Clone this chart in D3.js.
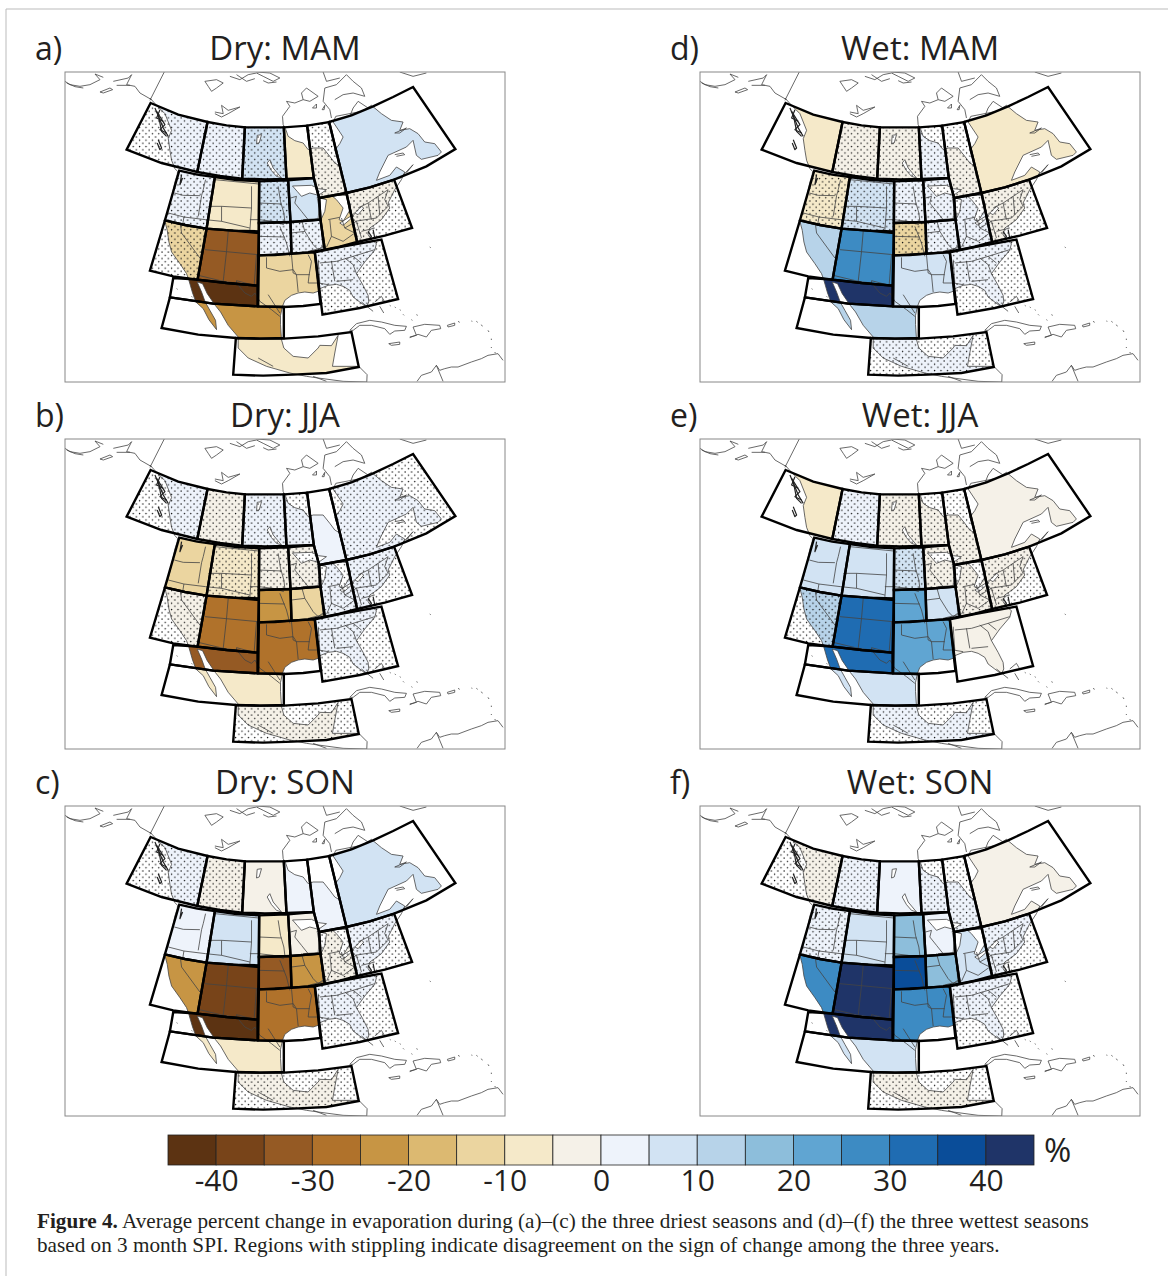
<!DOCTYPE html>
<html lang="en">
<head>
<meta charset="UTF-8">
<title>Figure 4</title>
<script src="https://d3js.org/d3.v7.min.js"></script>
<style>
  html, body { margin: 0; background: #fff; }
  svg { display: block; }
  .title, .tag, .cbar text, .unit { font-family: "Open Sans", "Noto Sans", sans-serif; fill: #231f20; }
  .title { font-size: 33px; text-anchor: middle; }
  .tag { font-size: 32px; }
  .caption { font-family: "Liberation Serif", serif; font-size: 21.2px; fill: #231f20; }
  .thin { fill: none; stroke: #444; stroke-width: 0.8; stroke-linejoin: round; }
  .dense { fill: none; stroke: #222; stroke-width: 1.2; stroke-linejoin: round; }
  .box { fill: none; stroke: #000; stroke-width: 2.4; stroke-linejoin: miter; }
</style>
</head>
<body>
<div id="chart"></div>
<script>
// colour bar
const levels = [-45, 45];
const barTicks = [-40, -30, -20, -10, 0, 10, 20, 30, 40];
const barColors = ['#5c3312', '#784419', '#955a24', '#b0722b', '#c79544', '#dcb971', '#ebd5a0', '#f5e9c9', '#f5f1e8',
                   '#eef3fb', '#d2e3f3', '#b7d3e9', '#8dbedb', '#60a5d2', '#3d8bc3', '#1f6cb2', '#0a4d99', '#1f3468'];

// percent change per region, regions in the order of regionShapes
const dryMAM = [2, 2, 7, -7, -2, 7, 2, -7, 7, 7, -12, -2, -12, -32, 2, 2, -12, 2, -42, -22, -7];
const dryJJA = [2, -2, 2, 2, 2, 2, -12, -7, -2, -2, 2, 2, -2, -27, -22, -12, -27, 2, -32, -7, -2];
const drySON = [2, -2, -2, 2, 2, 7, 2, 7, -7, -2, -2, 2, -22, -37, -32, -22, -27, 2, -42, -7, -2];
const wetMAM = [-7, -2, -2, 2, -2, -7, -7, 7, 2, 2, 2, -2, 12, 27, -12, 2, 7, 2, 42, 12, 2];
const wetJJA = [-7, 2, -2, -2, -2, -2, 7, 7, 7, -2, -2, -2, 12, 32, 22, 7, 22, -2, 32, 7, 2];
const wetSON = [-2, 2, 2, 2, 2, -2, 2, 7, 17, 2, 7, 2, 27, 42, 37, 17, 27, 2, 42, 7, -2];

// 1 = stippled
const dryMAMdots = [1, 1, 1, 0, 1, 0, 1, 0, 1, 0, 0, 1, 1, 0, 1, 1, 0, 1, 0, 0, 0];
const dryJJAdots = [1, 1, 1, 1, 0, 1, 0, 1, 1, 1, 1, 1, 1, 0, 0, 0, 0, 1, 0, 0, 1];
const drySONdots = [1, 1, 0, 0, 0, 0, 0, 0, 0, 0, 1, 1, 0, 0, 0, 0, 0, 1, 0, 0, 1];
const wetMAMdots = [0, 1, 1, 1, 1, 0, 1, 1, 1, 1, 1, 1, 0, 0, 1, 1, 0, 1, 0, 0, 1];
const wetJJAdots = [0, 1, 1, 1, 1, 0, 0, 0, 1, 1, 1, 1, 1, 0, 0, 0, 0, 0, 0, 0, 1];
const wetSONdots = [1, 1, 0, 1, 1, 0, 1, 0, 0, 0, 0, 1, 0, 0, 0, 0, 0, 1, 0, 0, 1];

const panels = [
  { tag: 'a)', title: 'Dry: MAM', values: dryMAM, dots: dryMAMdots, col: 0, row: 0 },
  { tag: 'b)', title: 'Dry: JJA', values: dryJJA, dots: dryJJAdots, col: 0, row: 1 },
  { tag: 'c)', title: 'Dry: SON', values: drySON, dots: drySONdots, col: 0, row: 2 },
  { tag: 'd)', title: 'Wet: MAM', values: wetMAM, dots: wetMAMdots, col: 1, row: 0 },
  { tag: 'e)', title: 'Wet: JJA', values: wetJJA, dots: wetJJAdots, col: 1, row: 1 },
  { tag: 'f)', title: 'Wet: SON', values: wetSON, dots: wetSONdots, col: 1, row: 2 }
];

// map geometry, in map plane units
const regionShapes = [
  [[272,115],[355,150],[443,172],[412,322],[305,295],[200,255]],
  [[443,172],[500,182],[555,188],[547,342],[480,334],[412,322]],
  [[555,188],[672,188],[680,343],[615,344],[547,342]],
  [[672,188],[742,183],[762,340],[680,343]],
  [[742,183],[808,172],[860,385],[778,400],[762,340]],
  [[808,172],[875,152],[940,125],[1000,97],[1060,67],[1187,253],[1100,305],[1003,345],[930,368],[860,385]],
  [[358,318],[412,330],[465,337],[440,492],[375,481],[315,467]],
  [[465,337],[530,346],[598,350],[597,500],[520,498],[440,492]],
  [[598,350],[685,347],[692,472],[597,475]],
  [[685,347],[762,340],[778,400],[782,465],[692,472]],
  [[778,400],[860,385],[892,532],[840,546],[795,555],[782,465]],
  [[860,385],[930,368],[1003,345],[1057,490],[975,513],[892,532]],
  [[315,467],[375,481],[440,492],[413,645],[340,635],[270,618]],
  [[440,492],[520,498],[597,505],[593,663],[500,655],[413,645]],
  [[597,475],[692,472],[695,567],[645,571],[597,572]],
  [[692,472],[782,465],[795,555],[745,563],[695,567]],
  [[597,572],[695,567],[765,563],[782,718],[730,724],[672,727],[595,725]],
  [[765,563],[840,547],[965,525],[1015,703],[900,730],[788,750]],
  [[340,640],[413,645],[500,655],[593,663],[593,725],[460,717],[330,698]],
  [[330,698],[460,717],[595,725],[672,727],[672,820],[600,822],[528,820],[415,810],[305,790]],
  [[528,820],[600,822],[672,822],[775,815],[875,802],[897,907],[800,925],[700,930],[610,933],[520,930]]
];

// main coast, from the Alaska panhandle round to Hudson Bay
const coast = [[270,100],[290,122],[315,147],[335,197],[325,222],[330,257],[335,287],[345,312],[353,320],[352,330],[345,352],[338,385],[325,440],[314,467],[322,497],[327,532],[335,562],[360,597],[380,627],[387,647],[398,685],[408,712],[430,732],[447,765],[470,795],[467,767],[450,737],[436,712],[425,682],[412,652],[428,657],[442,687],[466,722],[482,742],[505,782],[535,817],[535,850],[565,880],[620,905],[690,925],[740,935],[775,940],[850,950],[921,952],[922,930],[897,905],[818,905],[825,865],[835,812],[815,843],[780,842],[775,850],[745,880],[700,875],[672,850],[665,825],[662,780],[662,752],[668,725],[675,707],[695,692],[715,685],[735,682],[760,685],[775,680],[780,672],[805,662],[830,659],[850,665],[870,677],[880,697],[900,712],[920,727],[927,712],[925,692],[910,662],[890,627],[915,592],[945,557],[950,537],[935,525],[925,510],[930,490],[945,480],[965,465],[990,430],[985,415],[995,395],[1005,375],[1025,345],[1035,322],[1010,307],[990,332],[950,347],[960,322],[985,272],[1040,247],[1060,227],[1070,272],[1085,284],[1135,272],[1145,262],[1125,237],[1095,232],[1075,207],[1050,192],[1020,197],[1030,172],[995,167],[965,147],[935,122],[905,140],[828,155],[820,172],[850,217],[840,237],[825,257],[833,280],[842,305],[825,295],[810,275],[790,250],[760,250],[745,255],[730,235],[705,228],[685,215],[678,195],[670,180],[668,155]];
const landClosure = [[668,100]];

const lakes = [
  [[698,364],[755,362],[776,372],[800,375],[776,392],[750,385],[725,395],[712,380]],
  [[772,398],[800,405],[795,440],[785,462],[775,462],[778,430]],
  [[815,392],[858,392],[872,420],[868,440],[850,470],[838,465],[850,430],[830,405]],
  [[840,475],[880,450],[882,455],[850,482]],
  [[885,445],[905,425],[912,430],[895,450]],
  [[630,285],[640,310],[665,340],[650,335],[635,318],[622,295]],
  [[592,212],[605,210],[598,235],[590,238]]
];

const stateLines = [
  [[465,345],[597,358]], [[343,385],[370,392],[420,393]], [[437,345],[430,375],[425,393],[415,455]],
  [[325,445],[372,457],[437,465]], [[372,457],[368,482]], [[445,425],[485,425],[575,430]], [[485,425],[485,470],[570,490]],
  [[575,365],[575,430],[570,497]], [[570,465],[595,465]], [[437,465],[485,470]],
  [[505,500],[500,560],[490,650]], [[435,555],[595,570]], [[590,570],[583,660]],
  [[415,632],[490,650],[530,655],[530,648],[575,660]], [[362,482],[365,505],[420,580]],
  [[530,655],[555,685],[575,695],[585,685],[600,710],[635,735],[660,755]],
  [[620,578],[620,610],[660,620],[700,615],[710,630],[750,630]], [[695,570],[700,625],[710,630],[715,682]],
  [[745,570],[755,590],[748,630],[745,655],[775,655]],
  [[597,515],[675,517]], [[660,485],[680,535],[690,575]], [[695,505],[735,500]],
  [[725,465],[735,500],[760,540],[775,555],[795,540]], [[785,500],[790,550]], [[745,560],[795,548]],
  [[598,415],[665,418]], [[597,465],[640,470],[672,480]], [[655,365],[662,410],[672,445],[675,470]],
  [[710,395],[705,415],[725,440],[745,465]], [[730,465],[775,462]], [[692,400],[710,395]],
  [[805,465],[840,458]], [[810,465],[815,515],[800,548]], [[815,515],[850,530],[885,505]], [[845,460],[855,490],[885,505]],
  [[855,490],[890,470],[905,520]], [[885,470],[950,460],[985,425]], [[925,415],[935,465]], [[955,395],[960,450]], [[985,375],[975,405],[985,425]], [[895,430],[925,415],[955,395],[985,375]], [[905,500],[945,490]],
  [[780,595],[830,590],[880,575],[945,555]], [[775,585],[780,655]], [[815,590],[825,650]], [[855,580],[880,600],[890,627]], [[830,650],[880,645]],
  [[775,655],[805,660]], [[880,575],[905,595]],
  [[625,690],[660,745]], [[595,880],[640,905]]
];

const otherCoast = [
  [[15,50],[30,60],[60,65],[90,60],[120,45],[105,28],[130,38]], [[120,82],[150,70],[158,75],[130,85],[120,82]],
  [[160,50],[205,40],[215,30],[200,60],[225,65],[240,85],[275,105]], [[170,62],[210,62]], [[20,55],[45,66],[70,70]],
  [[313,22],[270,107]],
  [[435,50],[470,45],[490,55],[470,70],[455,80],[445,65],[435,50]], [[510,35],[540,45],[565,30],[590,25],[610,35],[640,50],[660,40],[630,25],[590,22]],
  [[530,30],[560,50],[585,42]], [[610,48],[625,55],[650,52]], [[465,142],[490,147],[485,122],[505,137],[540,127],[505,147],[485,157],[465,147]],
  [[668,155],[690,125],[680,110],[705,115],[730,105],[725,85],[740,70],[775,95],[750,110],[730,105]],
  [[758,130],[770,118],[770,130],[758,130]], [[787,135],[795,122],[793,135],[787,135]],
  [[815,160],[810,135],[790,110],[795,70],[830,60],[860,30],[880,50],[905,70],[915,95],[880,85],[850,90],[825,105]],
  [[1020,22],[1060,35],[1100,25]], [[790,22],[800,50],[840,40]], [[870,155],[880,130],[895,110],[925,130]],
  [[1005,205],[1040,190],[1020,205],[1005,205]],
  [[1005,270],[1030,265],[1035,270],[1010,275]], [[1040,325],[1060,300],[1020,342]],
  [[870,797],[890,777],[930,767],[965,772],[1005,782],[1040,785],[1035,797],[1005,799],[990,809],[975,792],[935,782],[900,782],[880,797],[870,797]],
  [[1050,817],[1070,812],[1060,787],[1095,779],[1140,782],[1143,792],[1115,797],[1100,817],[1075,809],[1050,819]],
  [[987,837],[1020,832],[1020,839],[995,842],[987,837]], [[1163,782],[1185,775],[1185,782],[1165,787],[1163,782]],
  [[1072,950],[1085,932],[1115,922],[1130,902],[1140,917],[1155,912],[1175,907],[1195,907],[1235,892],[1265,882],[1285,872],[1315,867],[1330,887]],
  [[1130,902],[1150,950]], [[760,935],[800,950]],[[905,712],[940,740]], [[945,712],[965,695],[975,712]], [[960,725],[972,745]]
];
// dark clusters of small islands
const denseCoast = [
  [[295,225],[305,250],[300,255],[292,235]], [[285,130],[300,165],[310,190],[325,215]], [[295,150],[305,200],[320,215]],
  [[290,140],[315,180],[300,195],[320,205]], [[300,135],[290,160],[310,170]], [[365,330],[360,360],[368,340]],
  [[925,500],[935,515],[930,525]], [[940,495],[945,520]]
];
// small island chains, short ticks
const islandTicks = [
  [[990,722],[993,724]], [[1005,727],[1008,729]], [[1020,735],[1023,737]], [[1030,749],[1033,752]], [[1055,765],[1058,767]], [[1070,750],[1074,752]],
  [[1235,769],[1238,770]], [[1250,770],[1254,773]], [[1265,780],[1268,785]], [[1285,797],[1288,802]], [[1295,822],[1295,826]], [[1295,847],[1295,850]], [[1305,862],[1308,866]],
  [[1110,547],[1113,549]], [[1195,770],[1200,773]], [[350,672],[353,674]], [[395,695],[398,698]]
];

// layout
const panelX = [65, 700];
const panelY = [72, 439, 806];
const panelW = 440, panelH = 310;
const mapX = d3.scaleLinear().domain([15, 1336]).range([0, panelW]);
const mapY = d3.scaleLinear().domain([22, 952]).range([0, panelH]);
const colorOf = d3.scaleQuantize().domain(levels).range(barColors);
const linePath = d3.line().x(d => mapX(d[0])).y(d => mapY(d[1]));
const ring = pts => linePath(pts) + 'Z';

const svg = d3.select('#chart').append('svg').attr('width', 1168).attr('height', 1276);
const defs = svg.append('defs');
defs.append('clipPath').attr('id', 'land').append('path')
  .attr('clip-rule', 'evenodd')
  .attr('d', ring(coast.concat(landClosure)) + lakes.map(ring).join(''));
defs.append('clipPath').attr('id', 'frame').append('rect').attr('width', panelW).attr('height', panelH);
const dotPattern = defs.append('pattern').attr('id', 'stipple').attr('patternUnits', 'userSpaceOnUse')
  .attr('width', 6.4).attr('height', 6.4);
dotPattern.selectAll('circle').data([[1, 1], [4.2, 4.2]]).join('circle')
  .attr('cx', d => d[0]).attr('cy', d => d[1]).attr('r', 0.72).attr('fill', '#111');

// outer border of the page
svg.append('path').attr('d', 'M6,1276V9H1168').attr('fill', 'none').attr('stroke', '#bbb').attr('stroke-width', 1);

panels.forEach(p => {
  const x0 = panelX[p.col], y0 = panelY[p.row];
  svg.append('text').attr('class', 'tag').attr('x', x0 - 30).attr('y', y0 - 12).text(p.tag);
  svg.append('text').attr('class', 'title').attr('x', x0 + 220).attr('y', y0 - 12).text(p.title);

  const g = svg.append('g').attr('transform', `translate(${x0},${y0})`);
  const inner = g.append('g').attr('clip-path', 'url(#frame)');

  inner.append('g').attr('clip-path', 'url(#land)').selectAll('path').data(regionShapes).join('path')
    .attr('d', ring).attr('fill', (d, i) => colorOf(p.values[i]));
  inner.append('g').selectAll('path').data(regionShapes.filter((d, i) => p.dots[i])).join('path')
    .attr('d', ring).attr('fill', 'url(#stipple)');

  const lines = [coast].concat(lakes.map(l => l.concat([l[0]])), stateLines, otherCoast, islandTicks);
  inner.append('g').selectAll('path').data(lines).join('path').attr('class', 'thin').attr('d', linePath);
  inner.append('g').selectAll('path').data(denseCoast).join('path').attr('class', 'dense').attr('d', linePath);

  inner.append('g').selectAll('path').data(regionShapes).join('path').attr('class', 'box').attr('d', ring);
  g.append('rect').attr('width', panelW).attr('height', panelH).attr('fill', 'none').attr('stroke', '#888').attr('stroke-width', 1);
});

// colour bar
const barX = d3.scaleLinear().domain(levels).range([168, 1034]);
const barTop = 1135, barH = 30;
const bar = svg.append('g').attr('class', 'cbar');
bar.selectAll('rect').data(barColors).join('rect')
  .attr('x', (d, i) => barX(levels[0] + i * 5)).attr('y', barTop)
  .attr('width', barX(5) - barX(0)).attr('height', barH)
  .attr('fill', d => d).attr('stroke', '#222').attr('stroke-width', 0.8);
const barAxis = bar.append('g').attr('transform', `translate(0,${barTop + barH})`)
  .call(d3.axisBottom(barX).tickValues(barTicks).tickSize(0).tickPadding(5).tickFormat(d => String(d)));
barAxis.select('.domain').remove();
barAxis.selectAll('text').attr('font-size', 30).attr('font-family', null);
svg.append('text').attr('class', 'unit').attr('x', 1044).attr('y', 1162).attr('font-size', 33).text('%');

// caption
const cap = svg.append('text').attr('class', 'caption').attr('x', 37);
cap.append('tspan').attr('x', 37).attr('y', 1228).attr('font-weight', 'bold').text('Figure 4.');
cap.append('tspan').text(' Average percent change in evaporation during (a)–(c) the three driest seasons and (d)–(f) the three wettest seasons');
cap.append('tspan').attr('x', 37).attr('y', 1252).text('based on 3 month SPI. Regions with stippling indicate disagreement on the sign of change among the three years.');
</script>
</body>
</html>
